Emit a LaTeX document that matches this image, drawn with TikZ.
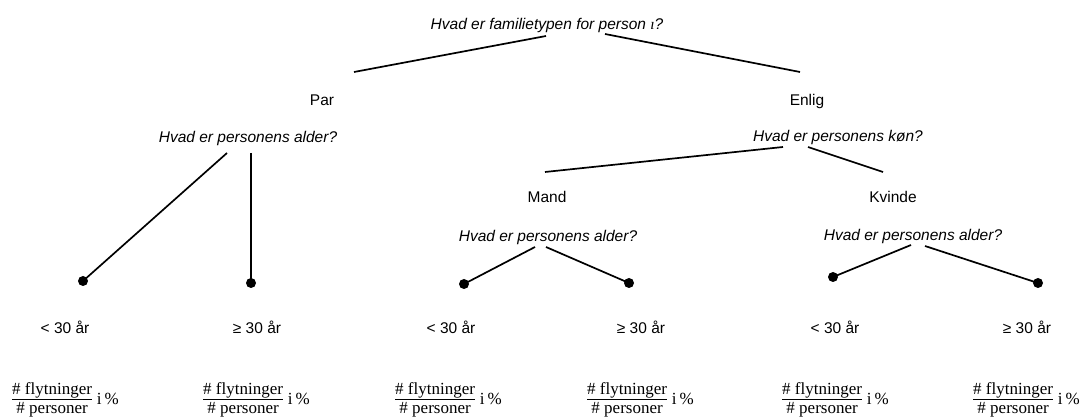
\documentclass[tikz,border=0pt]{standalone}
\usepackage{fontspec}
\setmainfont{Liberation Sans}
\newfontfamily\fracfont{Liberation Serif}
\setlength{\arrayrulewidth}{0.8pt}
\newcommand{\ratio}{{\fontsize{17}{19}\fracfont\selectfont
  $\vcenter{\hbox{\begin{tabular}{@{}c@{}}\# flytninger\\[-1pt]\hline\rule{0pt}{14pt}\# personer\end{tabular}}}$\hspace{5pt}i\,\%}}
\begin{document}
\begin{tikzpicture}[x=1pt,y=-1pt,
  lbl/.style={anchor=base,inner sep=0pt,font=\fontsize{15.5}{18}\selectfont},
  qst/.style={lbl,font=\fontsize{15.5}{18}\selectfont\itshape},
  ratiobox/.style={anchor=west,inner sep=0pt},
  edge/.style={line width=1.7pt},
  leafdot/.style={circle,fill=black,inner sep=0pt,minimum size=10pt}]
\useasboundingbox (0,0) rectangle (1085,419);

% texts
\node[qst] (q0) at (547,30) {Hvad er familietypen for person {\fracfont\itshape ı}?};
\node[lbl] (par) at (322,106) {Par};
\node[lbl] (enlig) at (807,106) {Enlig};
\node[qst] (q1) at (248,143) {Hvad er personens alder?};
\node[qst] (q2) at (838,142) {Hvad er personens køn?};
\node[lbl] (mand) at (547,203) {Mand};
\node[lbl] (kvinde) at (893,203) {Kvinde};
\node[qst] (q3) at (548,242) {Hvad er personens alder?};
\node[qst] (q4) at (913,241) {Hvad er personens alder?};

\node[lbl] (l1) at (65,334) {< 30 år};
\node[lbl] (l2) at (257,334) {≥ 30 år};
\node[lbl] (l3) at (451,334) {< 30 år};
\node[lbl] (l4) at (641,334) {≥ 30 år};
\node[lbl] (l5) at (835,334) {< 30 år};
\node[lbl] (l6) at (1027,334) {≥ 30 år};

\node[ratiobox] (f1) at (12,400) {\ratio};
\node[ratiobox] (f2) at (203,400) {\ratio};
\node[ratiobox] (f3) at (395,400) {\ratio};
\node[ratiobox] (f4) at (587,400) {\ratio};
\node[ratiobox] (f5) at (782,400) {\ratio};
\node[ratiobox] (f6) at (973,400) {\ratio};

% connector end points
\coordinate (q0l) at (546,36);
\coordinate (q0r) at (605,34);
\coordinate (parT) at (354,72);
\coordinate (enligT) at (800,72);
\coordinate (q1l) at (227,153);
\coordinate (q1r) at (251,153);
\coordinate (q2l) at (783,147);
\coordinate (q2r) at (808,147);
\coordinate (mandT) at (545,172);
\coordinate (kvindeT) at (883,172);
\coordinate (q3l) at (535,247);
\coordinate (q3r) at (546,247);
\coordinate (q4l) at (911,245);
\coordinate (q4r) at (925,246);

\node[leafdot] (d1) at (83,281) {};
\node[leafdot] (d2) at (251,283) {};
\node[leafdot] (d3) at (464,284) {};
\node[leafdot] (d4) at (629,283) {};
\node[leafdot] (d5) at (833,277) {};
\node[leafdot] (d6) at (1038,283) {};

\draw[edge] (q0l) -- (parT);
\draw[edge] (q0r) -- (enligT);
\draw[edge] (q1l) -- (d1.center);
\draw[edge] (q1r) -- (d2.center);
\draw[edge] (q2l) -- (mandT);
\draw[edge] (q2r) -- (kvindeT);
\draw[edge] (q3l) -- (d3.center);
\draw[edge] (q3r) -- (d4.center);
\draw[edge] (q4l) -- (d5.center);
\draw[edge] (q4r) -- (d6.center);
\end{tikzpicture}
\end{document}
